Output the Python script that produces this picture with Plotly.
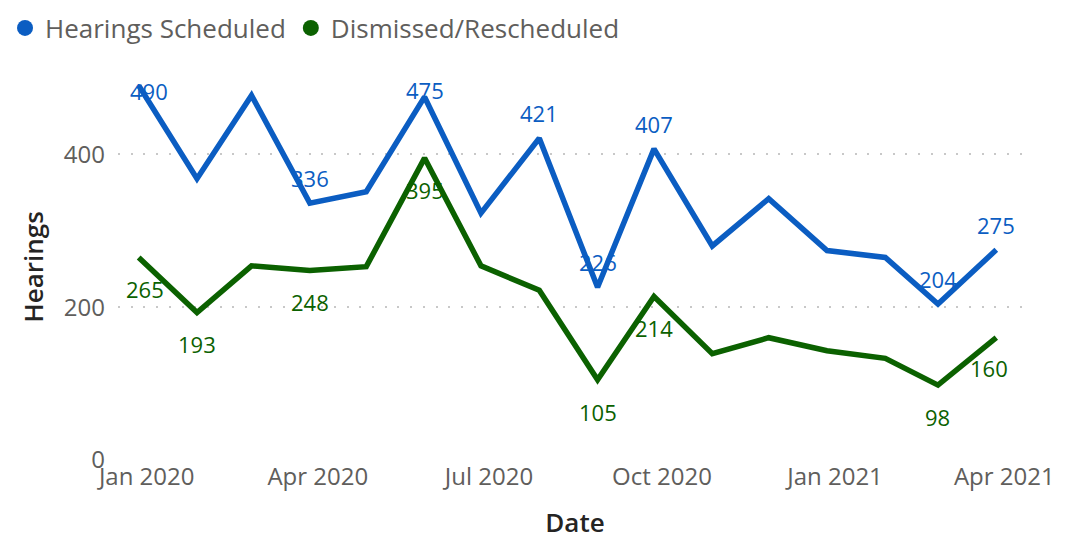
import plotly.graph_objects as go

months = ["2020-01-01", "2020-02-01", "2020-03-01", "2020-04-01", "2020-05-01", "2020-06-01",
          "2020-07-01", "2020-08-01", "2020-09-01", "2020-10-01", "2020-11-01", "2020-12-01",
          "2021-01-01", "2021-02-01", "2021-03-01", "2021-04-01"]
hearings_scheduled = [490, 368, 477, 336, 351, 475, 323, 421, 226, 407, 280, 342, 274, 265, 204, 275]
dismissed_rescheduled = [265, 193, 254, 248, 253, 395, 254, 222, 105, 214, 139, 160, 143, 133, 98, 160]
scheduled_labelled = [0, 3, 5, 7, 8, 9, 14, 15]
dismissed_labelled = [0, 1, 3, 5, 8, 9, 14, 15]
tick_vals = ["2020-01-01", "2020-04-01", "2020-07-01", "2020-10-01", "2021-01-01", "2021-04-01"]
tick_text = ["Jan 2020", "Apr 2020", "Jul 2020", "Oct 2020", "Jan 2021", "Apr 2021"]

BLUE = "#0B5DC2"
GREEN = "#0B6100"
FONT = "Segoe UI, Open Sans, sans-serif"

fig = go.Figure()
fig.add_trace(go.Scatter(x=months, y=hearings_scheduled, mode="lines", name="Hearings Scheduled",
                         line=dict(color=BLUE, width=5.5), showlegend=False))
fig.add_trace(go.Scatter(x=months, y=dismissed_rescheduled, mode="lines", name="Dismissed/Rescheduled",
                         line=dict(color=GREEN, width=5.5), showlegend=False))
# legend entries (circle markers)
fig.add_trace(go.Scatter(x=[None], y=[None], mode="markers", name="Hearings Scheduled",
                         marker=dict(color=BLUE, size=18)))
fig.add_trace(go.Scatter(x=[None], y=[None], mode="markers", name="Dismissed/Rescheduled",
                         marker=dict(color=GREEN, size=18)))

# data labels
special_shift = {("s", 0): (10, -6), ("s", 5): (0, 7), ("d", 0): (6, -32), ("d", 15): (-7, -30)}
annotations = []
for key, series, idxs, color, dy in (("s", hearings_scheduled, scheduled_labelled, BLUE, 25),
                                      ("d", dismissed_rescheduled, dismissed_labelled, GREEN, -32)):
    for i in idxs:
        xs, ys = special_shift.get((key, i), (0, dy))
        annotations.append(dict(x=months[i], y=series[i], text=str(series[i]), showarrow=False,
                                xshift=xs, yshift=ys, font=dict(color=color, size=22, family=FONT)))

fig.update_layout(
    width=1066, height=540,
    margin=dict(l=110, r=42, t=66, b=88, autoexpand=False),
    paper_bgcolor="white", plot_bgcolor="white",
    font=dict(family=FONT, color="#605E5C", size=22),
    showlegend=True,
    legend=dict(orientation="h", xref="paper", yref="paper", x=-0.1236, y=1.119,
                xanchor="left", yanchor="middle", font=dict(size=26, color="#605E5C"),
                itemsizing="trace", bgcolor="rgba(0,0,0,0)"),
    annotations=annotations,
    xaxis=dict(type="date", range=["2019-12-21", "2021-04-20"], tickvals=tick_vals, ticktext=tick_text,
               showgrid=False, zeroline=False, showline=False, ticks="", ticklabelshift=8,
               tickfont=dict(size=24, color="#605E5C"),
               title=dict(text="Date", font=dict(size=26, color="#252423", family=FONT, weight=600),
                          standoff=22)),
    yaxis=dict(range=[0, 505], tickvals=[0, 200, 400], showgrid=True, gridcolor="#C8C8C8",
               gridwidth=2, griddash="2px,10.7px", zeroline=False, showline=False, ticks="",
               ticklabelstandoff=12,
               tickfont=dict(size=24, color="#605E5C"),
               title=dict(text="Hearings", font=dict(size=26, color="#252423", family=FONT, weight=600),
                          standoff=12)),
)

fig.write_html("out.html")
